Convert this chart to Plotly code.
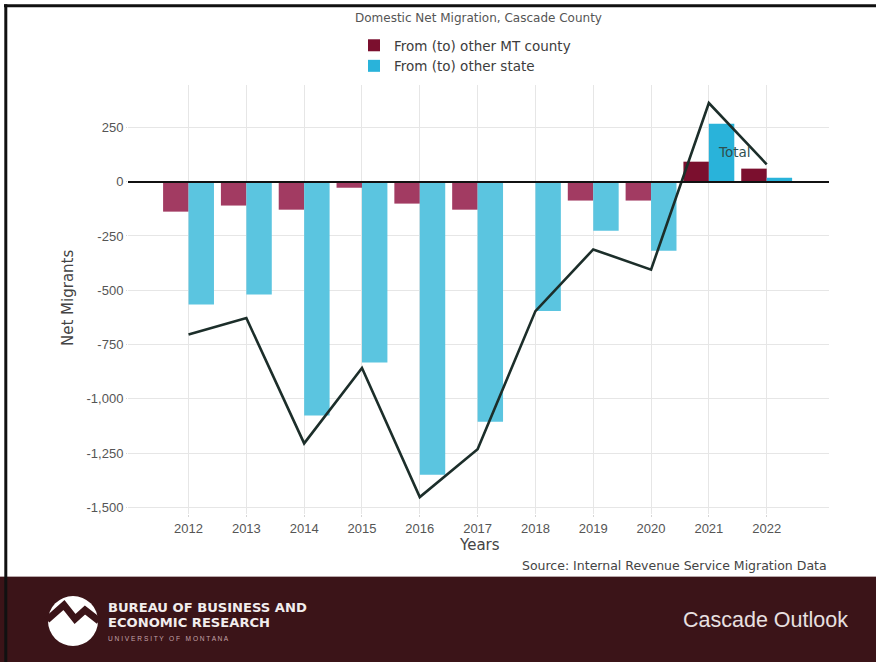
import plotly.graph_objects as go

W, H = 876, 662

# ---- data ----
years = [2012, 2013, 2014, 2015, 2016, 2017, 2018, 2019, 2020, 2021, 2022]
mt_county = [-138, -110, -129, -28, -101, -129, 0, -87, -87, 92, 60]
other_state = [-566, -520, -1077, -833, -1349, -1105, -596, -226, -318, 267, 18]
total = [-704, -628, -1205, -858, -1452, -1232, -596, -312, -405, 362, 80]
ytick_vals = [250, 0, -250, -500, -750, -1000, -1250, -1500]
ytick_text = ["250", "0", "-250", "-500", "-750", "-1,000", "-1,250", "-1,500"]
xtick_text = [str(y) for y in years]

FONT = "DejaVu Sans, Verdana, sans-serif"
TICKFONT = "Liberation Sans, Arial, sans-serif"
MT_POS, MT_NEG = "#7b0f2e", "#a23b62"
ST_POS, ST_NEG = "#29b3da", "#5bc5e0"
BAND = "#3b1418"


def px(x):
    return x / W


def py(y):
    return 1 - y / H


def pos(vals):
    return [v if v >= 0 else None for v in vals]


def neg(vals):
    return [v if v < 0 else None for v in vals]


fig = go.Figure()
fig.add_trace(go.Bar(x=years, y=pos(mt_county), name="From (to) other MT county",
                     marker=dict(color=MT_POS, line=dict(width=0)),
                     offsetgroup="mt", legendgroup="mt", legendrank=1))
fig.add_trace(go.Bar(x=years, y=pos(other_state), name="From (to) other state",
                     marker=dict(color=ST_POS, line=dict(width=0)),
                     offsetgroup="st", legendgroup="st", legendrank=2))
fig.add_trace(go.Bar(x=years, y=neg(mt_county), name="From (to) other MT county",
                     marker=dict(color=MT_NEG, line=dict(width=0)),
                     offsetgroup="mt", legendgroup="mt", showlegend=False))
fig.add_trace(go.Bar(x=years, y=neg(other_state), name="From (to) other state",
                     marker=dict(color=ST_NEG, line=dict(width=0)),
                     offsetgroup="st", legendgroup="st", showlegend=False))
fig.add_trace(go.Scatter(x=years, y=total, mode="lines", name="Total",
                         line=dict(color="#1c2e2a", width=2.6), showlegend=False))

x_left, x_right = 2010.953, 2023.078

fig.update_layout(
    width=W, height=H,
    margin=dict(l=0, r=0, t=0, b=0),
    paper_bgcolor="white", plot_bgcolor="white",
    barmode="group", bargap=0.12, bargroupgap=0,
    font=dict(family=FONT, color="#444444"),
    showlegend=True,
    legend=dict(x=px(354), y=py(30), xanchor="left", yanchor="top",
                font=dict(size=13.5, color="#3d3d3d", family=FONT), bgcolor="rgba(0,0,0,0)",
                tracegroupgap=0, itemwidth=30, traceorder="normal"),
    xaxis=dict(domain=[px(128), px(829)], range=[x_left, x_right],
               tickvals=years, ticktext=xtick_text,
               showgrid=True, gridcolor="#e6e6e6", gridwidth=1,
               zeroline=False, showline=False,
               ticks="outside", ticklen=2, tickcolor="#d5d5d5",
               tickfont=dict(size=13, color="#555555", family=TICKFONT)),
    yaxis=dict(domain=[py(514), py(85)], range=[-1530, 445],
               tickvals=ytick_vals, ticktext=ytick_text,
               showgrid=True, gridcolor="#e6e6e6", gridwidth=1,
               zeroline=True, zerolinecolor="#111111", zerolinewidth=2.4,
               showline=False,
               ticks="outside", ticklen=1, tickcolor="#d5d5d5",
               tickfont=dict(size=13, color="#555555", family=TICKFONT)),
)

try:
    fig.update_layout(yaxis_zerolinelayer="above traces")
except Exception:
    pass

shapes = [
    # bottom band
    dict(type="rect", xref="paper", yref="paper", x0=0, x1=1, y0=0, y1=py(577),
         fillcolor=BAND, line=dict(width=0), layer="above"),
    dict(type="line", xref="paper", yref="paper", x0=0, x1=1, y0=py(576.5), y1=py(576.5),
         line=dict(color="#b8a8aa", width=1), layer="above"),
    # frame
    dict(type="line", xref="paper", yref="paper", x0=px(4), x1=1, y0=py(5.8), y1=py(5.8),
         line=dict(color="#111111", width=3), layer="above"),
    dict(type="line", xref="paper", yref="paper", x0=px(5.8), x1=px(5.8), y0=0, y1=py(4.3),
         line=dict(color="#111111", width=3), layer="above"),
    # logo
    dict(type="circle", xref="paper", yref="paper", x0=px(48), x1=px(98), y0=py(646), y1=py(596),
         fillcolor="white", line=dict(width=0), layer="above"),
    dict(type="path", xref="paper", yref="paper",
         path="M {},{} L {},{} L {},{} L {},{} L {},{}".format(
             px(47), py(620), px(64), py(605), px(75), py(619),
             px(85), py(610), px(99), py(621)),
         line=dict(color=BAND, width=7), layer="above"),
]

annotations = [
    dict(text="Domestic Net Migration, Cascade County", x=px(478), y=py(18),
         xref="paper", yref="paper", showarrow=False, xanchor="center", yanchor="middle",
         font=dict(size=12, color="#555555")),
    dict(text="Total", x=2021.45, y=138, xref="x", yref="y", showarrow=False,
         xanchor="center", yanchor="middle", font=dict(size=13.5, color="#2f4f4f")),
    dict(text="Net Migrants", x=px(68), y=py(298), xref="paper", yref="paper",
         showarrow=False, textangle=-90, xanchor="center", yanchor="middle",
         font=dict(size=15, color="#444444")),
    dict(text="Years", x=px(479), y=py(545), xref="paper", yref="paper",
         showarrow=False, xanchor="center", yanchor="middle",
         font=dict(size=15, color="#444444")),
    dict(text="Source: Internal Revenue Service Migration Data", x=px(829), y=py(565),
         xref="paper", yref="paper", showarrow=False, xanchor="right", yanchor="middle",
         font=dict(size=12.5, color="#444444")),
    dict(text="<b>BUREAU OF BUSINESS AND</b>", x=px(106), y=py(607), xref="paper", yref="paper",
         showarrow=False, xanchor="left", yanchor="middle",
         font=dict(size=13.1, color="#f2eded", family=FONT)),
    dict(text="<b>ECONOMIC RESEARCH</b>", x=px(106), y=py(622), xref="paper", yref="paper",
         showarrow=False, xanchor="left", yanchor="middle",
         font=dict(size=13.1, color="#f2eded", family=FONT)),
    dict(text="U N I V E R S I T Y   O F   M O N T A N A", x=px(106), y=py(638),
         xref="paper", yref="paper", showarrow=False, xanchor="left", yanchor="middle",
         font=dict(size=6.6, color="#c4a3aa", family="Liberation Sans, Arial")),
    dict(text="Cascade Outlook", x=px(765), y=py(620), xref="paper", yref="paper",
         showarrow=False, xanchor="center", yanchor="middle",
         font=dict(size=21.5, color="#e8e0e0", family="Liberation Sans, Arial")),
]

fig.update_layout(shapes=shapes, annotations=annotations)
fig.write_html("out.html", config={"displayModeBar": False},
               post_script="document.body.style.margin='0';")
